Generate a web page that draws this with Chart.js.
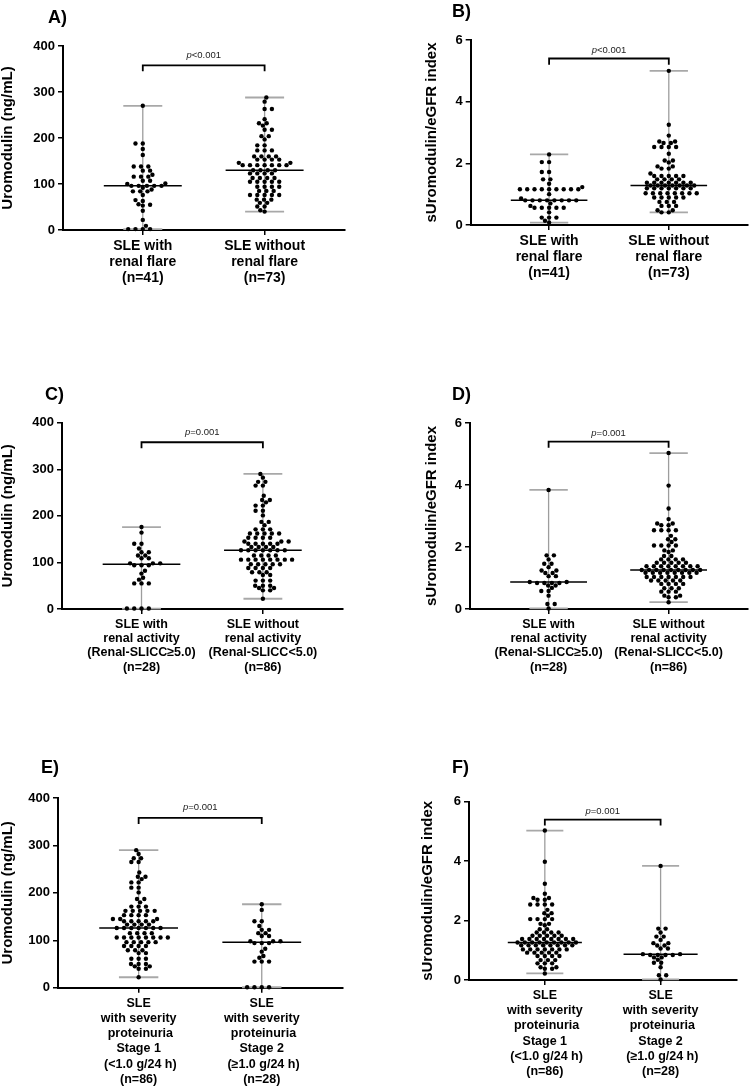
<!DOCTYPE html>
<html>
<head>
<meta charset="utf-8">
<script src="https://cdn.jsdelivr.net/npm/chart.js@4.4.1/dist/chart.umd.min.js"></script>
<style>
  body { margin: 0; background: #fff; }
  #wrap { position: relative; width: 750px; height: 1086px; background: #fff; }
  canvas { position: absolute; }
</style>
</head>
<body>
<div id="wrap">
  <canvas id="chartA" width="375" height="380" style="left:0;top:0"></canvas>
  <canvas id="chartB" width="375" height="380" style="left:375px;top:0"></canvas>
  <canvas id="chartC" width="375" height="370" style="left:0;top:380px"></canvas>
  <canvas id="chartD" width="375" height="370" style="left:375px;top:380px"></canvas>
  <canvas id="chartE" width="375" height="336" style="left:0;top:750px"></canvas>
  <canvas id="chartF" width="375" height="336" style="left:375px;top:750px"></canvas>
</div>
<script>
// Values (one array per group)
const flareUmod = [270, 188, 188, 176, 163, 138, 138, 138, 129, 129, 120, 116, 116, 116, 107, 107,
  101, 100, 96, 96, 96, 96, 96, 92, 88, 84, 84, 84, 76, 65, 63, 56, 55, 53, 42, 22, 9, 2, 2, 2, 2];
const noFlareUmod = [288, 279, 263, 263, 241, 232, 232, 227, 218, 218, 204, 204, 197, 184, 184,
  173, 173, 173, 160, 160, 160, 160, 153, 153, 153, 153, 146, 146, 141, 141, 141, 141, 141, 141, 141,
  130, 130, 130, 130, 123, 123, 123, 123, 113, 113, 113, 113, 105, 105, 105, 105, 105,
  94, 94, 94, 94, 85, 85, 85, 76, 76, 76, 76, 76, 66, 66, 66, 59, 59, 51, 51, 43, 40];
const flareIndex = [2.29, 2.04, 2.04, 1.72, 1.72, 1.48, 1.48, 1.34, 1.23,
  1.16, 1.16, 1.16, 1.16, 1.16, 1.16, 1.16, 1.16, 1.16, 1.0, 0.86,
  0.8, 0.8, 0.8, 0.8, 0.8, 0.8, 0.8, 0.8, 0.7, 0.62, 0.56, 0.56, 0.56, 0.56, 0.56,
  0.41, 0.24, 0.24, 0.24, 0.14, 0.08];
const noFlareIndex = [5.0, 3.25, 2.9, 2.71, 2.71, 2.66, 2.66, 2.53, 2.53, 2.53, 2.53, 2.31,
  2.09, 2.09, 2.03, 1.9, 1.9, 1.83, 1.83, 1.67, 1.59, 1.59, 1.59, 1.59, 1.59, 1.48, 1.48, 1.48, 1.48,
  1.37, 1.37, 1.37, 1.37, 1.37, 1.37, 1.37, 1.28, 1.28, 1.28, 1.28, 1.28, 1.28, 1.28,
  1.19, 1.19, 1.19, 1.19, 1.19, 1.19, 1.19, 1.03, 1.03, 1.03, 1.03, 1.03, 1.03, 1.03, 1.03,
  0.89, 0.89, 0.89, 0.89, 0.89, 0.75, 0.75, 0.75, 0.62, 0.62, 0.62, 0.48, 0.48, 0.41, 0.41];
const activeUmod = [176, 164, 140, 140, 130, 122, 122, 115, 115, 109, 109, 98, 98, 98,
  94, 94, 94, 82, 76, 67, 63, 55, 55, 55, 1, 1, 1, 1];
const inactiveUmod = [290, 282, 273, 273, 265, 265, 243, 234, 234, 229, 222, 222, 211, 211, 201,
  187, 187, 180, 171, 171, 171, 162, 162, 162, 162, 162, 153, 153, 153, 153, 145, 145, 145,
  140, 140, 140, 140, 140, 133, 133, 133, 133, 126, 126, 126, 126, 126, 126, 126,
  115, 115, 115, 115, 106, 106, 106, 106, 106, 106, 106, 106, 96, 96, 96, 96, 96,
  88, 88, 88, 88, 79, 79, 79, 73, 73, 61, 61, 61, 50, 50, 50, 45, 45, 40, 40, 22];
const activeIndex = [3.84, 1.73, 1.73, 1.6, 1.46, 1.46, 1.35, 1.24, 1.24, 1.16, 1.16, 1.06, 1.06,
  0.87, 0.87, 0.84, 0.84, 0.84, 0.84, 0.76, 0.76, 0.68, 0.58, 0.58, 0.43, 0.16, 0.16, 0.02];
const inactiveIndex = [5.03, 3.98, 3.24, 2.9, 2.76, 2.76, 2.7, 2.7, 2.54, 2.54, 2.54, 2.54, 2.36,
  2.25, 2.25, 2.16, 2.05, 2.05, 2.05, 2.05, 1.89, 1.89, 1.84, 1.71, 1.71, 1.6, 1.6, 1.6, 1.6,
  1.49, 1.49, 1.49, 1.49, 1.49, 1.38, 1.38, 1.38, 1.38, 1.38, 1.38, 1.38, 1.38,
  1.26, 1.26, 1.26, 1.26, 1.26, 1.26, 1.26, 1.26, 1.26, 1.17, 1.17, 1.17, 1.17, 1.17, 1.17, 1.17, 1.17,
  1.03, 1.03, 1.03, 1.03, 1.03, 1.03, 1.03, 0.92, 0.92, 0.92, 0.92, 0.92, 0.81, 0.81, 0.81, 0.81,
  0.67, 0.67, 0.67, 0.56, 0.56, 0.56, 0.43, 0.43, 0.38, 0.38, 0.22];

const umodTicks = [0, 100, 200, 300, 400];
const indexTicks = [0, 2, 4, 6];

const flareLabels = [["SLE with", "renal flare", "(n=41)"], ["SLE without", "renal flare", "(n=73)"]];
const activityLabels = [["SLE with", "renal activity", "(Renal-SLICC≥5.0)", "(n=28)"],
  ["SLE without", "renal activity", "(Renal-SLICC<5.0)", "(n=86)"]];
const proteinuriaLabels = [["SLE", "with severity", " proteinuria", "Stage 1", " (<1.0 g/24 h)", "(n=86)"],
  ["SLE", "with severity", " proteinuria", "Stage 2", " (≥1.0 g/24 h)", "(n=28)"]];

const FONT = '"Liberation Sans", Arial, Helvetica, sans-serif';
const GAP = 7.3;      // spacing of dots sharing one row (px)
const SAME_ROW = 1.2; // dots closer than this vertically count as one row (px)
const DIAM = 4.5;     // min centre distance between dots of different rows (px)
const CAP_W = 0.16;   // half width of range caps (x units)
const MED_W = 0.32;   // half width of median line (x units)

function median(arr) {
  const s = [...arr].sort((a, b) => a - b);
  const m = Math.floor(s.length / 2);
  return s.length % 2 ? s[m] : (s[m - 1] + s[m]) / 2;
}

function segment(points, color, width, order) {
  return {
    data: points, showLine: true, borderColor: color, borderWidth: width,
    pointRadius: 0, pointHoverRadius: 0, fill: false, clip: false, order: order
  };
}

// panel letter and p value text
const annotate = {
  id: "annotate",
  afterDraw(chart, args, opts) {
    const ctx = chart.ctx;
    ctx.save();
    ctx.fillStyle = "#000";
    ctx.textBaseline = "alphabetic";
    ctx.textAlign = "left";
    ctx.font = "bold 18px " + FONT;
    ctx.fillText(opts.letter, opts.letterX, opts.letterY);

    const cx = chart.scales.x.getPixelForValue(1.5);
    const cy = chart.scales.y.getPixelForValue(opts.pAt);
    const italic = "italic 9.5px " + FONT;
    const normal = "9.5px " + FONT;
    ctx.font = italic;
    const w1 = ctx.measureText("p").width;
    ctx.font = normal;
    const w2 = ctx.measureText(opts.pText).width;
    const x0 = cx - (w1 + w2) / 2;
    ctx.fillStyle = "#222";
    ctx.textBaseline = "middle";
    ctx.font = italic;
    ctx.fillText("p", x0, cy);
    ctx.font = normal;
    ctx.fillText(opts.pText, x0 + w1, cy);
    ctx.restore();
  }
};

// spread the dots of each group sideways so they do not overlap
function swarm(chart, nGroups) {
  const xs = chart.scales.x, ys = chart.scales.y;
  const unit = xs.getPixelForValue(2) - xs.getPixelForValue(1);
  for (let g = 0; g < nGroups; g++) {
    const ds = chart.data.datasets[g];
    const pts = ds.data.map(p => ({ v: p.y, py: ys.getPixelForValue(p.y) }));
    const order = pts.map((_, i) => i).sort((a, b) => pts[a].v - pts[b].v);
    const placed = [];
    let flip = 1;
    order.forEach(i => {
      const py = pts[i].py;
      const spans = [];
      placed.forEach(q => {
        const dy = Math.abs(q.py - py);
        let w = 0;
        if (dy < SAME_ROW) w = GAP;
        else if (dy < DIAM) w = Math.sqrt(DIAM * DIAM - dy * dy);
        if (w > 0) spans.push([q.dx - w, q.dx + w]);
      });
      const cands = [0];
      spans.forEach(s => cands.push(s[0], s[1]));
      flip = -flip;
      cands.sort((a, b) => Math.abs(a) - Math.abs(b) || flip * (a - b));
      const dx = cands.find(c => spans.every(s => c <= s[0] + 1e-6 || c >= s[1] - 1e-6));
      placed.push({ dx, py });
      ds.data[i] = { x: g + 1 + dx / unit, y: pts[i].v };
    });
  }
  chart.update("none");
}

function makePanel(cfg) {
  const canvas = document.getElementById(cfg.id);
  const W = canvas.width, H = canvas.height;
  const padLeft = cfg.titleX - 7.5;
  const datasets = [];

  cfg.groups.forEach((vals, g) => {
    datasets.push({
      data: vals.map(v => ({ x: g + 1, y: v })),
      backgroundColor: "#000", borderWidth: 0, pointRadius: 2.2, pointHoverRadius: 2.2,
      clip: false, order: 1
    });
  });
  cfg.groups.forEach((vals, g) => {
    const cat = g + 1;
    const lo = Math.min(...vals), hi = Math.max(...vals), md = median(vals);
    datasets.push(segment([{ x: cat, y: lo }, { x: cat, y: hi }], "#9d9d9d", 1.3, 2));
    datasets.push(segment([{ x: cat - CAP_W, y: hi }, { x: cat + CAP_W, y: hi }], "#a8a8a8", 1.8, 2));
    datasets.push(segment([{ x: cat - CAP_W, y: lo }, { x: cat + CAP_W, y: lo }], "#a8a8a8", 1.8, 2));
    datasets.push(segment([{ x: cat - MED_W, y: md }, { x: cat + MED_W, y: md }], "#000", 1.5, 0));
  });
  const [bLo, bHi] = cfg.bracket;
  datasets.push(segment([{ x: 1, y: bLo }, { x: 1, y: bHi }, { x: 2, y: bHi }, { x: 2, y: bLo }], "#000", 1.8, 0));

  const yt = cfg.yTicks;
  const chart = new Chart(canvas, {
    type: "scatter",
    data: { datasets },
    options: {
      responsive: false,
      animation: false,
      devicePixelRatio: 1,
      events: [],
      layout: { padding: { left: padLeft, top: cfg.area.top, right: W - cfg.area.right, bottom: 0 } },
      plugins: {
        legend: { display: false },
        tooltip: { enabled: false },
        annotate: {
          letter: cfg.letter, letterX: cfg.letterPos[0], letterY: cfg.letterPos[1],
          pText: cfg.pText, pAt: cfg.pAt
        }
      },
      scales: {
        x: {
          type: "linear", min: 0.345, max: 2.66,
          afterBuildTicks: a => { a.ticks = [{ value: 1 }, { value: 2 }]; },
          afterFit: s => { s.height = H - cfg.area.bottom; },
          ticks: {
            autoSkip: false, maxRotation: 0, minRotation: 0, padding: 3, color: "#000",
            font: { family: FONT, size: cfg.catFont, weight: "bold", lineHeight: cfg.catLine / cfg.catFont },
            callback: (v, i) => cfg.cats[i]
          },
          grid: { drawOnChartArea: false, drawTicks: true, tickLength: 5, color: "#000", lineWidth: 1.5 },
          border: { color: "#000", width: 2 }
        },
        y: {
          min: yt[0], max: yt[yt.length - 1],
          afterBuildTicks: a => { a.ticks = yt.map(v => ({ value: v })); },
          afterFit: s => { s.width = cfg.area.left - padLeft; },
          ticks: { padding: 3, color: "#000", font: { family: FONT, size: 13, weight: "bold" } },
          grid: { drawOnChartArea: false, drawTicks: true, tickLength: 5, color: "#000", lineWidth: 1.5 },
          border: { color: "#000", width: 2 },
          title: {
            display: true, text: cfg.yTitle, color: "#000", padding: 0,
            font: { family: FONT, size: 15, weight: "bold", lineHeight: 1 }
          }
        }
      }
    },
    plugins: [annotate]
  });
  swarm(chart, cfg.groups.length);
}

const umodTitle = "Uromodulin (ng/mL)";
const indexTitle = "sUromodulin/eGFR index";

makePanel({ id: "chartA", letter: "A)", letterPos: [48, 23], groups: [flareUmod, noFlareUmod],
  cats: flareLabels, catFont: 14, catLine: 16.2, yTicks: umodTicks, yTitle: umodTitle, titleX: 7.5,
  area: { left: 63, top: 46, right: 345, bottom: 230 }, bracket: [345, 358], pAt: 380, pText: "<0.001" });
makePanel({ id: "chartB", letter: "B)", letterPos: [77, 17], groups: [flareIndex, noFlareIndex],
  cats: flareLabels, catFont: 14, catLine: 16.2, yTicks: indexTicks, yTitle: indexTitle, titleX: 56.7,
  area: { left: 95.7, top: 40, right: 373, bottom: 225 }, bracket: [5.2, 5.4], pAt: 5.67, pText: "<0.001" });
makePanel({ id: "chartC", letter: "C)", letterPos: [45, 20], groups: [activeUmod, inactiveUmod],
  cats: activityLabels, catFont: 12.5, catLine: 14.4, yTicks: umodTicks, yTitle: umodTitle, titleX: 7.5,
  area: { left: 62, top: 42.7, right: 343, bottom: 229 }, bracket: [345, 358], pAt: 380, pText: "=0.001" });
makePanel({ id: "chartD", letter: "D)", letterPos: [77, 20], groups: [activeIndex, inactiveIndex],
  cats: activityLabels, catFont: 12.5, catLine: 14.4, yTicks: indexTicks, yTitle: indexTitle, titleX: 56.7,
  area: { left: 95, top: 43, right: 373, bottom: 229 }, bracket: [5.2, 5.4], pAt: 5.67, pText: "=0.001" });
makePanel({ id: "chartE", letter: "E)", letterPos: [41, 23], groups: [inactiveUmod, activeUmod],
  cats: proteinuriaLabels, catFont: 12.5, catLine: 15.2, yTicks: umodTicks, yTitle: umodTitle, titleX: 7.5,
  area: { left: 58, top: 48, right: 343, bottom: 237.7 }, bracket: [345, 358], pAt: 380, pText: "=0.001" });
makePanel({ id: "chartF", letter: "F)", letterPos: [77, 23], groups: [inactiveIndex, activeIndex],
  cats: proteinuriaLabels, catFont: 12.5, catLine: 15.2, yTicks: indexTicks, yTitle: indexTitle, titleX: 53.3,
  area: { left: 94, top: 51.7, right: 362, bottom: 230 }, bracket: [5.2, 5.4], pAt: 5.67, pText: "=0.001" });
</script>
</body>
</html>
